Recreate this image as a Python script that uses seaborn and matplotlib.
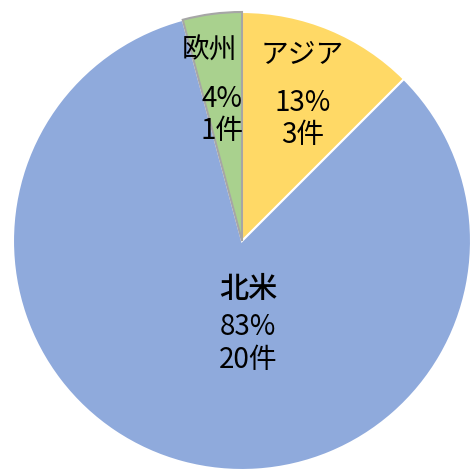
import numpy as np
import seaborn as sns
import matplotlib
matplotlib.use("Agg")
import matplotlib.pyplot as plt

# データ
regions = ["アジア", "北米", "欧州"]
counts = [3, 20, 1]
colors = ["#FFD966", "#8FAADC", "#A9D18E"]
edge_colors = ["white", "white", "#A6A6A6"]

sns.set_theme(style="white")
plt.rcParams['font.family'] = ['Noto Sans CJK JP', 'DejaVu Sans']

fig = plt.figure(figsize=(4.71, 4.69), dpi=100)
ax = fig.add_axes([0, 0, 1, 1])
ax.set_xlim(0, 471)
ax.set_ylim(0, 469)
ax.set_aspect("equal")
ax.axis("off")

cx, cy, r = 242, 228, 229
wedges, _ = ax.pie(counts, colors=colors, startangle=90, counterclock=False,
                   center=(cx, cy), radius=r, frame=True,
                   wedgeprops=dict(linewidth=1.5))
for w, ec in zip(wedges, edge_colors):
    w.set_edgecolor(ec)
wedges[2].set_zorder(3)

total = sum(counts)
# ラベル位置（半径比）
label_frac = {"アジア": 0.69, "北米": 0.37, "欧州": 0.66}
for w, name, n in zip(wedges, regions, counts):
    mid = np.deg2rad((w.theta1 + w.theta2) / 2)
    f = label_frac[name]
    x = cx + f * r * np.cos(mid)
    y = cy + f * r * np.sin(mid)
    nx = x
    if name == "北米":
        x, y = cx + 6, cy - 84
        nx = x
        offs = (36, -2, -35)
        nsize, nweight = 21, "medium"
    else:
        offs = (40, -8, -40)
        nsize, nweight = 20, "normal"
        if name == "欧州":
            nx = x - 13
    pct = int(n / total * 100 + 0.5)
    ax.text(nx, y + offs[0], name, ha="center", va="center",
            fontsize=nsize, fontweight=nweight, color="black")
    ax.text(x, y + offs[1], f"{pct}%", ha="center", va="center",
            fontsize=20, color="black")
    ax.text(x, y + offs[2], f"{n}件", ha="center", va="center",
            fontsize=20, color="black")

fig.savefig("out.png", dpi=100)
